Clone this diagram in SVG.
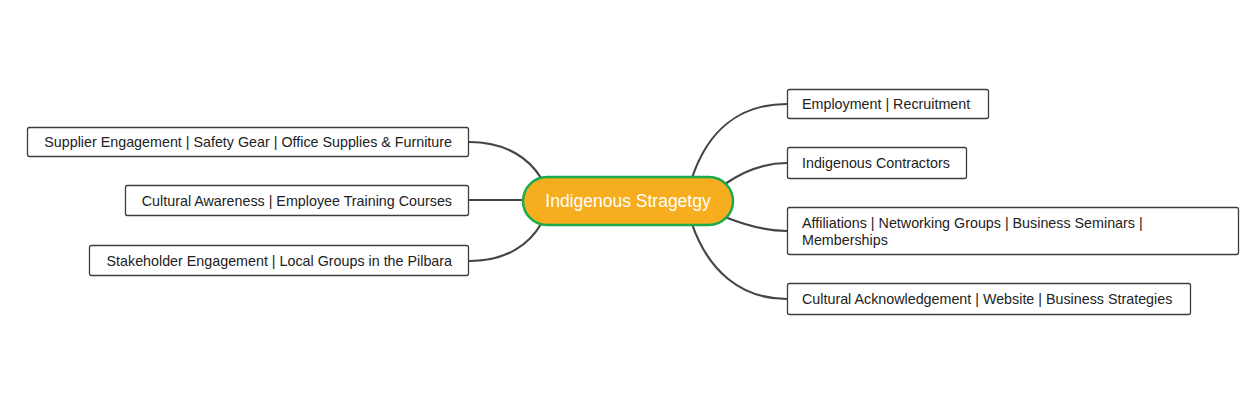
<svg xmlns="http://www.w3.org/2000/svg" width="1240" height="400" viewBox="0 0 1240 400">
<style>
.box{fill:#fff;stroke:#3d3d3d;stroke-width:1.3}
.t{font-family:"Liberation Sans",Arial,sans-serif;font-size:14.3px;fill:#222}
.c{fill:none;stroke:#454545;stroke-width:2.2}
</style>
<rect width="1240" height="400" fill="#fff"/>
<g id="connectors">
<path class="c" d="M469,142 C508,142 530,160 541,178"/>
<path class="c" d="M469,200 L523,200"/>
<path class="c" d="M469,261 C508,261 530,243 541,224"/>
<path class="c" d="M692,178 C708,130 740,104 787,104"/>
<path class="c" d="M725,184 C745,170 765,163 787,163"/>
<path class="c" d="M725,217 C745,225 765,231 787,231"/>
<path class="c" d="M692,224 C708,270 740,299 787,299"/>
</g>
<g id="center">
<rect x="523" y="177" width="210" height="48" rx="24" fill="#f6ad1e" stroke="#1aab4c" stroke-width="2.5"/>
<text x="628" y="207" text-anchor="middle" font-family="Liberation Sans, Arial, sans-serif" font-size="17.5" fill="#fff">Indigenous Stragetgy</text>
</g>
<g id="n-supplier">
<rect class="box" x="27.5" y="127.5" width="441" height="29" rx="2"/>
<text class="t" x="452" y="147" text-anchor="end">Supplier Engagement | Safety Gear | Office Supplies &amp; Furniture</text>
</g>
<g id="n-cultural-awareness">
<rect class="box" x="125.5" y="185.5" width="343" height="30" rx="2"/>
<text class="t" x="452" y="206" text-anchor="end">Cultural Awareness | Employee Training Courses</text>
</g>
<g id="n-stakeholder">
<rect class="box" x="89.5" y="245.5" width="379" height="30" rx="2"/>
<text class="t" x="452" y="266" text-anchor="end">Stakeholder Engagement | Local Groups in the Pilbara</text>
</g>
<g id="n-employment">
<rect class="box" x="787.5" y="89.5" width="201" height="29" rx="2"/>
<text class="t" x="802" y="109">Employment | Recruitment</text>
</g>
<g id="n-contractors">
<rect class="box" x="787.5" y="147.5" width="179" height="31" rx="2"/>
<text class="t" x="802" y="168">Indigenous Contractors</text>
</g>
<g id="n-affiliations">
<rect class="box" x="787.5" y="207.5" width="451" height="47" rx="2"/>
<text class="t" x="802" y="228">Affiliations | Networking Groups | Business Seminars |</text>
<text class="t" x="802" y="245">Memberships</text>
</g>
<g id="n-acknowledgement">
<rect class="box" x="787.5" y="283.5" width="403" height="31" rx="2"/>
<text class="t" x="802" y="304">Cultural Acknowledgement | Website | Business Strategies</text>
</g>
</svg>
